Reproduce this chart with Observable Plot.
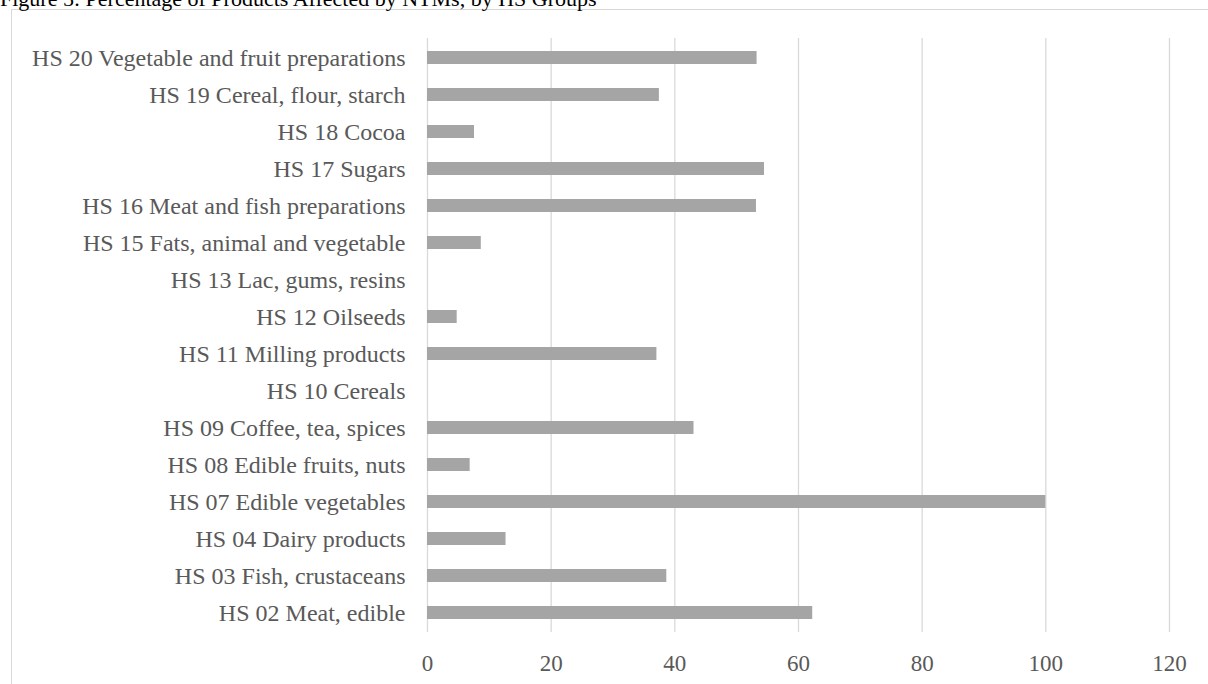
<!DOCTYPE html>
<html>
<head>
<meta charset="utf-8">
<script src="https://cdn.jsdelivr.net/npm/d3@7"></script>
<script src="https://cdn.jsdelivr.net/npm/@observablehq/plot@0.6"></script>
<style>
  html, body { margin: 0; padding: 0; background: #fff; overflow: hidden; }
  #wrap { position: relative; width: 1208px; height: 684px; overflow: hidden; }
  #frame { position: absolute; left: 11px; top: 9px; width: 1300px; height: 800px; border: 1px solid #d9d9d9; box-sizing: border-box; }
  #title { position: absolute; left: 0px; top: -12px; font: 22px "Liberation Serif", "Times New Roman", serif; line-height: 22px; color: #000; white-space: nowrap; }
  #chart { position: absolute; left: 0; top: 0; }
</style>
</head>
<body>
<div id="wrap">
  <div id="frame"></div>
  <div id="title">Figure 5: Percentage of Products Affected by NTMs, by HS Groups</div>
  <div id="chart"></div>
</div>
<script>
const categories = [
  "HS 20 Vegetable and fruit preparations",
  "HS 19 Cereal, flour, starch",
  "HS 18 Cocoa",
  "HS 17 Sugars",
  "HS 16 Meat and fish preparations",
  "HS 15 Fats, animal and vegetable",
  "HS 13 Lac, gums, resins",
  "HS 12 Oilseeds",
  "HS 11 Milling products",
  "HS 10 Cereals",
  "HS 09 Coffee, tea, spices",
  "HS 08 Edible fruits, nuts",
  "HS 07 Edible vegetables",
  "HS 04 Dairy products",
  "HS 03 Fish, crustaceans",
  "HS 02 Meat, edible"
];
const values = [53.3, 37.5, 7.6, 54.5, 53.2, 8.7, 0, 4.8, 37.1, 0, 43.1, 6.9, 100, 12.7, 38.7, 62.3];
const xTicks = [0, 20, 40, 60, 80, 100, 120];

const data = categories.map((c, i) => ({category: c, value: values[i]}));

const chart = Plot.plot({
  width: 1208,
  height: 684,
  marginLeft: 427,
  marginRight: 39,
  marginTop: 38,
  marginBottom: 52,
  style: {background: "transparent", fontFamily: "'Liberation Serif', 'Times New Roman', serif", fontSize: "24px", color: "#595959"},
  x: {domain: [0, 120], ticks: xTicks, label: null},
  y: {domain: categories, paddingInner: 0.65, paddingOuter: 0.325, label: null},
  marks: [
    Plot.gridX(xTicks, {stroke: "#d9d9d9", strokeOpacity: 1, strokeWidth: 1.3}),
    Plot.barX(data, {x: "value", y: "category", fill: "#a5a5a5"}),
    Plot.axisX({ticks: xTicks, tickSize: 0, tickPadding: 22, fontSize: 23, fill: "#595959", label: null}),
    Plot.axisY({tickSize: 0, tickPadding: 22, fontSize: 24, fill: "#595959", label: null})
  ]
});
document.getElementById("chart").appendChild(chart);
</script>
</body>
</html>
